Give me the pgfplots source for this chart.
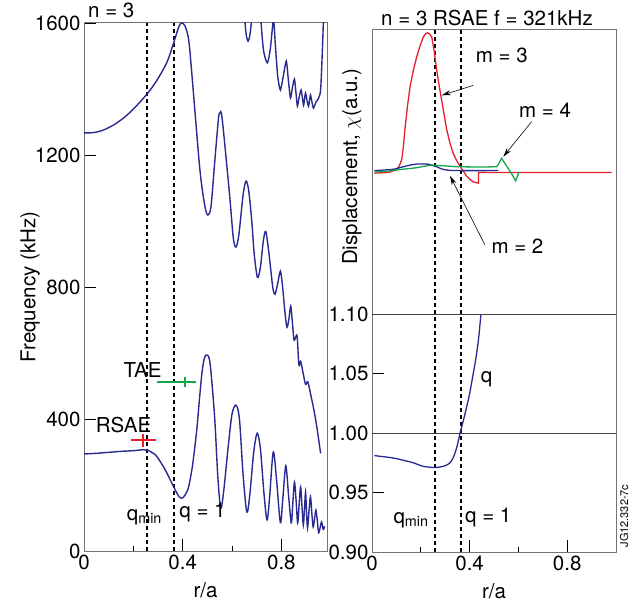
\documentclass[border=0pt]{standalone}
\usepackage{pgfplots}
\pgfplotsset{compat=1.18}
\usepackage{fontspec}
\setmainfont{TeX Gyre Heros}
\usetikzlibrary{arrows.meta}
\definecolor{cblue}{RGB}{40,42,145}
\definecolor{cred}{RGB}{232,30,40}
\definecolor{cgreen}{RGB}{20,165,75}
\definecolor{framec}{RGB}{115,115,115}
\newcommand{\fs}{\fontsize{20.5}{24}\selectfont}
\pgfplotsset{
  base/.style={
    scale only axis,
    axis line style={framec, line width=1pt},
    tick style={black, line width=0.8pt},
    major tick length=12pt,
    minor tick length=5pt,
    tick align=inside,
    xtick pos=bottom, ytick pos=left,
    /pgf/number format/assume math mode=true,
    /pgf/number format/1000 sep={},
    tick label style={font=\fs},
    label style={font=\fs},
    clip=true,
  },
  curve/.style={cblue, line width=1.4pt, mark=none},
  vdash/.style={black, line width=1.9pt, dash pattern=on 4pt off 3pt, mark=none},
}
\begin{document}
\begin{tikzpicture}[font=\fs]
\useasboundingbox (0pt,0pt) rectangle (636pt,603pt);
% ---------------- left panel ----------------
\begin{axis}[base, at={(84pt,52pt)}, anchor=south west, width=243pt, height=528pt,
  xmin=0, xmax=0.985, ymin=0, ymax=1600,
  xtick={0,0.4,0.8}, minor xtick={0.2,0.6}, ytick={0,400,800,1200,1600},
  xlabel={r/a}, ylabel={Frequency (kHz)},
  xlabel style={at={(axis description cs:0.5,-0.074)}, anchor=center},
  ylabel style={at={(axis description cs:-0.222,0.5)}, anchor=center}]
\addplot[vdash] coordinates {(0.257,0) (0.257,1600)};
\addplot[vdash] coordinates {(0.363,0) (0.363,1600)};
% upper continuum branch
\addplot[curve, smooth, tension=0.5] coordinates {
(0,1267) (0.04,1268) (0.08,1276) (0.12,1291) (0.16,1312) (0.2,1339) (0.25,1380)
(0.29,1420) (0.335,1479) (0.363,1539) (0.384,1588) (0.396,1600) (0.41,1590)
(0.425,1545) (0.44,1420) (0.47,1154) (0.49,1045) (0.502,1018) (0.515,1045)
(0.53,1180) (0.545,1310) (0.551,1327) (0.56,1310) (0.59,1080) (0.605,950)
(0.616,921) (0.628,960) (0.645,1080) (0.657,1121) (0.668,1090) (0.68,1000)
(0.69,900) (0.703,829) (0.715,860) (0.727,940) (0.737,968) (0.75,900)
(0.765,800) (0.774,778) (0.785,810) (0.796,848) (0.805,800) (0.815,720)
(0.823,678) (0.831,705) (0.838,742) (0.845,690) (0.851,640) (0.858,648)
(0.864,650) (0.871,565) (0.878,575) (0.888,540) (0.898,505) (0.907,513)
(0.92,470) (0.932,427) (0.945,370) (0.959,296)};
% lower branch
\addplot[curve, smooth, tension=0.5] coordinates {
(0,294) (0.05,296) (0.1,299) (0.15,302) (0.2,304) (0.24,307) (0.26,305)
(0.29,291) (0.31,270) (0.33,245) (0.35,215) (0.37,185) (0.385,165) (0.397,160)
(0.41,170) (0.424,194) (0.44,260) (0.457,367) (0.468,460) (0.478,539)
(0.488,585) (0.498,594) (0.507,585) (0.515,540) (0.53,400) (0.542,230)
(0.554,130) (0.566,180) (0.585,320) (0.6,415) (0.616,442) (0.63,400)
(0.645,230) (0.66,118) (0.672,170) (0.688,300) (0.702,357) (0.715,310)
(0.73,170) (0.742,94) (0.752,160) (0.767,300) (0.78,220) (0.796,86)
(0.806,160) (0.818,258) (0.829,170) (0.84,85) (0.846,140) (0.853,209)
(0.86,150) (0.866,85) (0.872,140) (0.878,194) (0.884,130) (0.889,79)
(0.894,130) (0.898,179) (0.902,120) (0.906,70) (0.912,120) (0.918,164)
(0.924,110) (0.929,73) (0.935,100) (0.94,124) (0.946,90) (0.951,55)
(0.957,70) (0.963,88) (0.97,65) (0.975,75)};
% top right branch
\addplot[curve, smooth, tension=0.4] coordinates {
(0.648,1720) (0.653,1600) (0.659,1558) (0.665,1545) (0.671,1558) (0.678,1600)
(0.684,1720) (0.712,1720) (0.718,1600) (0.728,1515) (0.743,1479) (0.755,1520)
(0.768,1610) (0.775,1540) (0.785,1440) (0.796,1397) (0.808,1440) (0.82,1485)
(0.828,1430) (0.837,1373) (0.845,1405) (0.853,1430) (0.859,1390) (0.865,1348)
(0.872,1375) (0.88,1397) (0.885,1375) (0.89,1351) (0.894,1370) (0.898,1388)
(0.904,1365) (0.91,1348) (0.914,1365) (0.918,1382) (0.924,1360) (0.93,1342)
(0.935,1350) (0.94,1360) (0.959,1397) (0.971,1620)};
% RSAE and TAE crosses
\addplot[draw=cred, line width=1.8pt, mark=none] coordinates {(0.191,336) (0.291,336)};
\addplot[draw=cred, line width=2pt, mark=none] coordinates {(0.239,316) (0.239,356)};
\addplot[draw=cgreen, line width=1.8pt, mark=none] coordinates {(0.295,513) (0.456,513)};
\addplot[draw=cgreen, line width=1.8pt, mark=none] coordinates {(0.411,498) (0.411,528)};
\node at (axis cs:0.237,548) {TAE};
\node at (axis cs:0.16,382) {RSAE};
\node at (axis cs:0.245,103) {q\textsubscript{min}};
\node[anchor=west, inner sep=0pt] at (axis cs:0.386,118) {q = 1};
\end{axis}
\node[anchor=base west, inner sep=0pt] at (88pt,585pt) {n = 3};
% ---------------- right upper panel ----------------
\begin{axis}[base, at={(372pt,289pt)}, anchor=south west, width=244pt, height=284pt,
  xmin=0, xmax=1, ymin=-1, ymax=1, xtick=\empty, ytick=\empty,
  ylabel={Displacement, $\chi$(a.u.)},
  ylabel style={at={(axis description cs:-0.082,0.518)}, anchor=center}]
\addplot[vdash] coordinates {(0.258,-1) (0.258,1)};
\addplot[vdash] coordinates {(0.364,-1) (0.364,1)};
\addplot[cred, line width=1.3pt, mark=none] coordinates {
(0.01,-0.008) (0.05,-0.005) (0.074,0) (0.09,0.01) (0.107,0.03) (0.116,0.06)
(0.122,0.09) (0.128,0.17) (0.135,0.30) (0.145,0.46) (0.156,0.60) (0.17,0.72)
(0.183,0.81) (0.197,0.89) (0.21,0.95) (0.22,0.975) (0.227,0.98) (0.236,0.972)
(0.245,0.95) (0.255,0.85) (0.265,0.72) (0.274,0.62) (0.283,0.53) (0.295,0.41)
(0.306,0.30) (0.32,0.20) (0.333,0.13) (0.347,0.08) (0.361,0.04) (0.375,0.005)
(0.388,-0.03) (0.40,-0.05) (0.415,-0.07) (0.436,-0.078) (0.437,-0.004) (0.982,-0.004)};
\addplot[cblue, line width=1.3pt, mark=none, smooth] coordinates {
(0.01,0.01) (0.05,0.014) (0.09,0.02) (0.128,0.037) (0.16,0.05) (0.183,0.056)
(0.224,0.056) (0.245,0.048) (0.265,0.037) (0.285,0.022) (0.306,0.014)
(0.347,0.01) (0.518,0.01)};
\addplot[cgreen, line width=1.3pt, mark=none] coordinates {
(0.01,0.0) (0.05,0.004) (0.101,0.014) (0.14,0.022) (0.183,0.03) (0.22,0.042)
(0.245,0.049) (0.27,0.046) (0.292,0.044) (0.347,0.037) (0.45,0.035) (0.511,0.037)
(0.52,0.06) (0.531,0.096) (0.545,0.06) (0.56,0.02) (0.575,-0.02) (0.589,-0.063) (0.602,0.0)};
\node at (axis cs:0.532,0.82) {m = 3};
\node at (axis cs:0.709,0.437) {m = 4};
\node at (axis cs:0.596,-0.526) {m = 2};
\draw[black, line width=0.6pt, -{Stealth[length=9pt,width=5pt]}] (axis cs:0.415,0.61) -- (axis cs:0.286,0.54);
\draw[black, line width=0.6pt, -{Stealth[length=9pt,width=5pt]}] (axis cs:0.654,0.354) -- (axis cs:0.538,0.108);
\draw[black, line width=0.6pt, -{Stealth[length=9pt,width=5pt]}] (axis cs:0.463,-0.514) -- (axis cs:0.32,-0.028);
\end{axis}
\node[anchor=base] at (487pt,577pt) {n = 3 RSAE f = 321kHz};
% ---------------- right lower panel ----------------
\begin{axis}[base, at={(372pt,51pt)}, anchor=south west, width=244pt, height=238pt,
  xmin=0, xmax=1, ymin=0.9, ymax=1.1,
  xtick={0,0.4,0.8}, minor xtick={0.2,0.6}, ytick={0.9,0.95,1,1.05,1.1},
  yticklabel style={/pgf/number format/.cd, fixed, fixed zerofill, precision=2},
  xlabel={r/a},
  xlabel style={at={(axis description cs:0.5,-0.163)}, anchor=center}]
\addplot[black!75, line width=1pt, mark=none] coordinates {(0,1) (1,1)};
\addplot[black!75, line width=1pt, mark=none] coordinates {(0,1.1) (1,1.1)};
\addplot[vdash] coordinates {(0.258,0.9) (0.258,1.1)};
\addplot[vdash] coordinates {(0.364,0.9) (0.364,1.1)};
\addplot[curve, line width=1.3pt, smooth] coordinates {
(0.01,0.981) (0.087,0.979) (0.13,0.977) (0.169,0.975) (0.21,0.972) (0.258,0.971)
(0.292,0.972) (0.31,0.9735) (0.32,0.975) (0.332,0.979) (0.34,0.983) (0.35,0.99)
(0.361,1.0) (0.375,1.011) (0.388,1.022) (0.40,1.033) (0.415,1.05) (0.426,1.063)
(0.436,1.078) (0.442,1.09) (0.446,1.099)};
\node at (axis cs:0.47,1.045) {q};
\node at (axis cs:0.16,0.927) {q\textsubscript{min}};
\node[anchor=west, inner sep=0pt] at (axis cs:0.381,0.929) {q = 1};
\end{axis}
\node[rotate=90, font=\fontsize{11}{13}\selectfont] at (624pt,87pt) {JG12.332-7c};
\end{tikzpicture}
\end{document}
